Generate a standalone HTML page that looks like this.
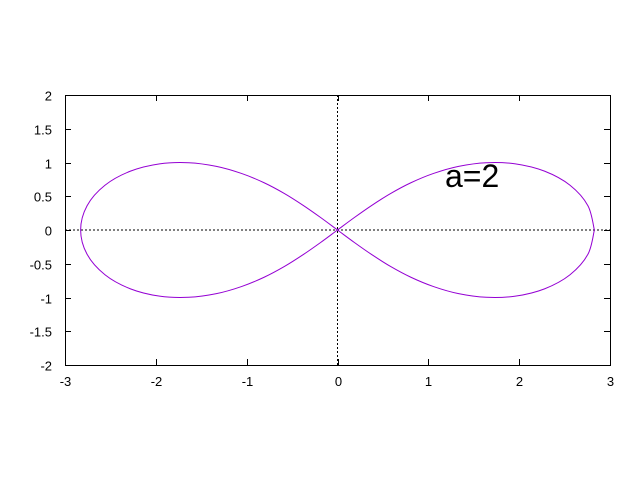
<!DOCTYPE html>
<html><head><meta charset="utf-8"><style>
html,body{margin:0;padding:0;background:#fff}
svg{display:block}
text{font-family:"Liberation Sans",sans-serif;fill:#000}
</style></head><body>
<svg id="chart" width="640" height="480" viewBox="0 0 640 480" xmlns="http://www.w3.org/2000/svg">
<rect width="640" height="480" fill="#fff"/>
<g id="axes"></g>
<g id="series"></g>
<text x="445" y="187" font-size="32">a=2</text>
</svg>
<script>
const xTicks = [-3,-2,-1,0,1,2,3];
const yTicks = [-2,-1.5,-1,-0.5,0,0.5,1,1.5,2];
const xTickLabels = ["-3","-2","-1","0","1","2","3"];
const yTickLabels = ["-2","-1.5","-1","-0.5","0","0.5","1","1.5","2"];
const curveX = [2.828,2.757,2.560,2.279,1.959,1.637,1.333,1.057,0.808,0.584,0.379,0.186,0,
 -0.186,-0.379,-0.584,-0.808,-1.057,-1.333,-1.637,-1.959,-2.279,-2.560,-2.757,-2.828,
 -2.757,-2.560,-2.279,-1.959,-1.637,-1.333,-1.057,-0.808,-0.584,-0.379,-0.186,0,
 0.186,0.379,0.584,0.808,1.057,1.333,1.637,1.959,2.279,2.560,2.757,2.828];
const curveY = [0,0.360,0.663,0.872,0.980,0.997,0.943,0.838,0.700,0.540,0.366,0.185,0,
 -0.185,-0.366,-0.540,-0.700,-0.838,-0.943,-0.997,-0.980,-0.872,-0.663,-0.360,0,
 0.360,0.663,0.872,0.980,0.997,0.943,0.838,0.700,0.540,0.366,0.185,0,
 -0.185,-0.366,-0.540,-0.700,-0.838,-0.943,-0.997,-0.980,-0.872,-0.663,-0.360,0];

const L=65,R=610,T=95,B=365;
const sx=v=>L+(v+3)/6*(R-L);
const sy=v=>B-(v+2)/4*(B-T);
const NS="http://www.w3.org/2000/svg";
const axes=document.getElementById('axes');
function mk(tag,attrs,parent){const e=document.createElementNS(NS,tag);for(const k in attrs)e.setAttribute(k,attrs[k]);parent.appendChild(e);return e;}

let zx=mk('line',{x1:sx(0),x2:sx(0),y1:T,y2:B,stroke:'#000','stroke-width':1,'stroke-dasharray':'2,2'},axes);


let zy=mk('line',{x1:L,x2:R,y1:sy(0),y2:sy(0),stroke:'#000','stroke-width':1,'stroke-dasharray':'2,2'},axes);



xTicks.forEach((v,i)=>{
  const x=Math.round(sx(v))+0.5;
  let t1=mk('line',{x1:x,x2:x,y1:B,y2:B-6,stroke:'#000'},axes);
  
  
  mk('line',{x1:x,x2:x,y1:T,y2:T+6,stroke:'#000'},axes);
  let tx=mk('text',{x:x,y:B+21,'font-size':13,'text-anchor':'middle'},axes);
  tx.textContent=xTickLabels[i];
  
  
});
yTicks.forEach((v,i)=>{
  const y=Math.round(sy(v))+0.5;
  let t1=mk('line',{x1:L,x2:L+6,y1:y,y2:y,stroke:'#000'},axes);
  
  
  mk('line',{x1:R,x2:R-6,y1:y,y2:y,stroke:'#000'},axes);
  let tx=mk('text',{x:52,y:y+5,'font-size':13,'text-anchor':'end'},axes);
  tx.textContent=yTickLabels[i];
  
  
});
let frame=mk('rect',{x:L+0.5,y:T+0.5,width:R-L,height:B-T,fill:'none',stroke:'#000'},axes);



const pts=curveX.map((v,i)=>[sx(v),sy(curveY[i])]);
let d='M'+pts[0][0]+','+pts[0][1];
for(let i=0;i<pts.length-1;i++){
  const p0=pts[Math.max(i-1,0)],p1=pts[i],p2=pts[i+1],p3=pts[Math.min(i+2,pts.length-1)];
  const c1=[p1[0]+(p2[0]-p0[0])/6,p1[1]+(p2[1]-p0[1])/6];
  const c2=[p2[0]-(p3[0]-p1[0])/6,p2[1]-(p3[1]-p1[1])/6];
  d+=' C'+c1[0]+','+c1[1]+' '+c2[0]+','+c2[1]+' '+p2[0]+','+p2[1];
}
const path=mk('path',{d:d,fill:'none',stroke:'#9400d3','stroke-width':1},document.getElementById('series'));


</script>
</body></html>
